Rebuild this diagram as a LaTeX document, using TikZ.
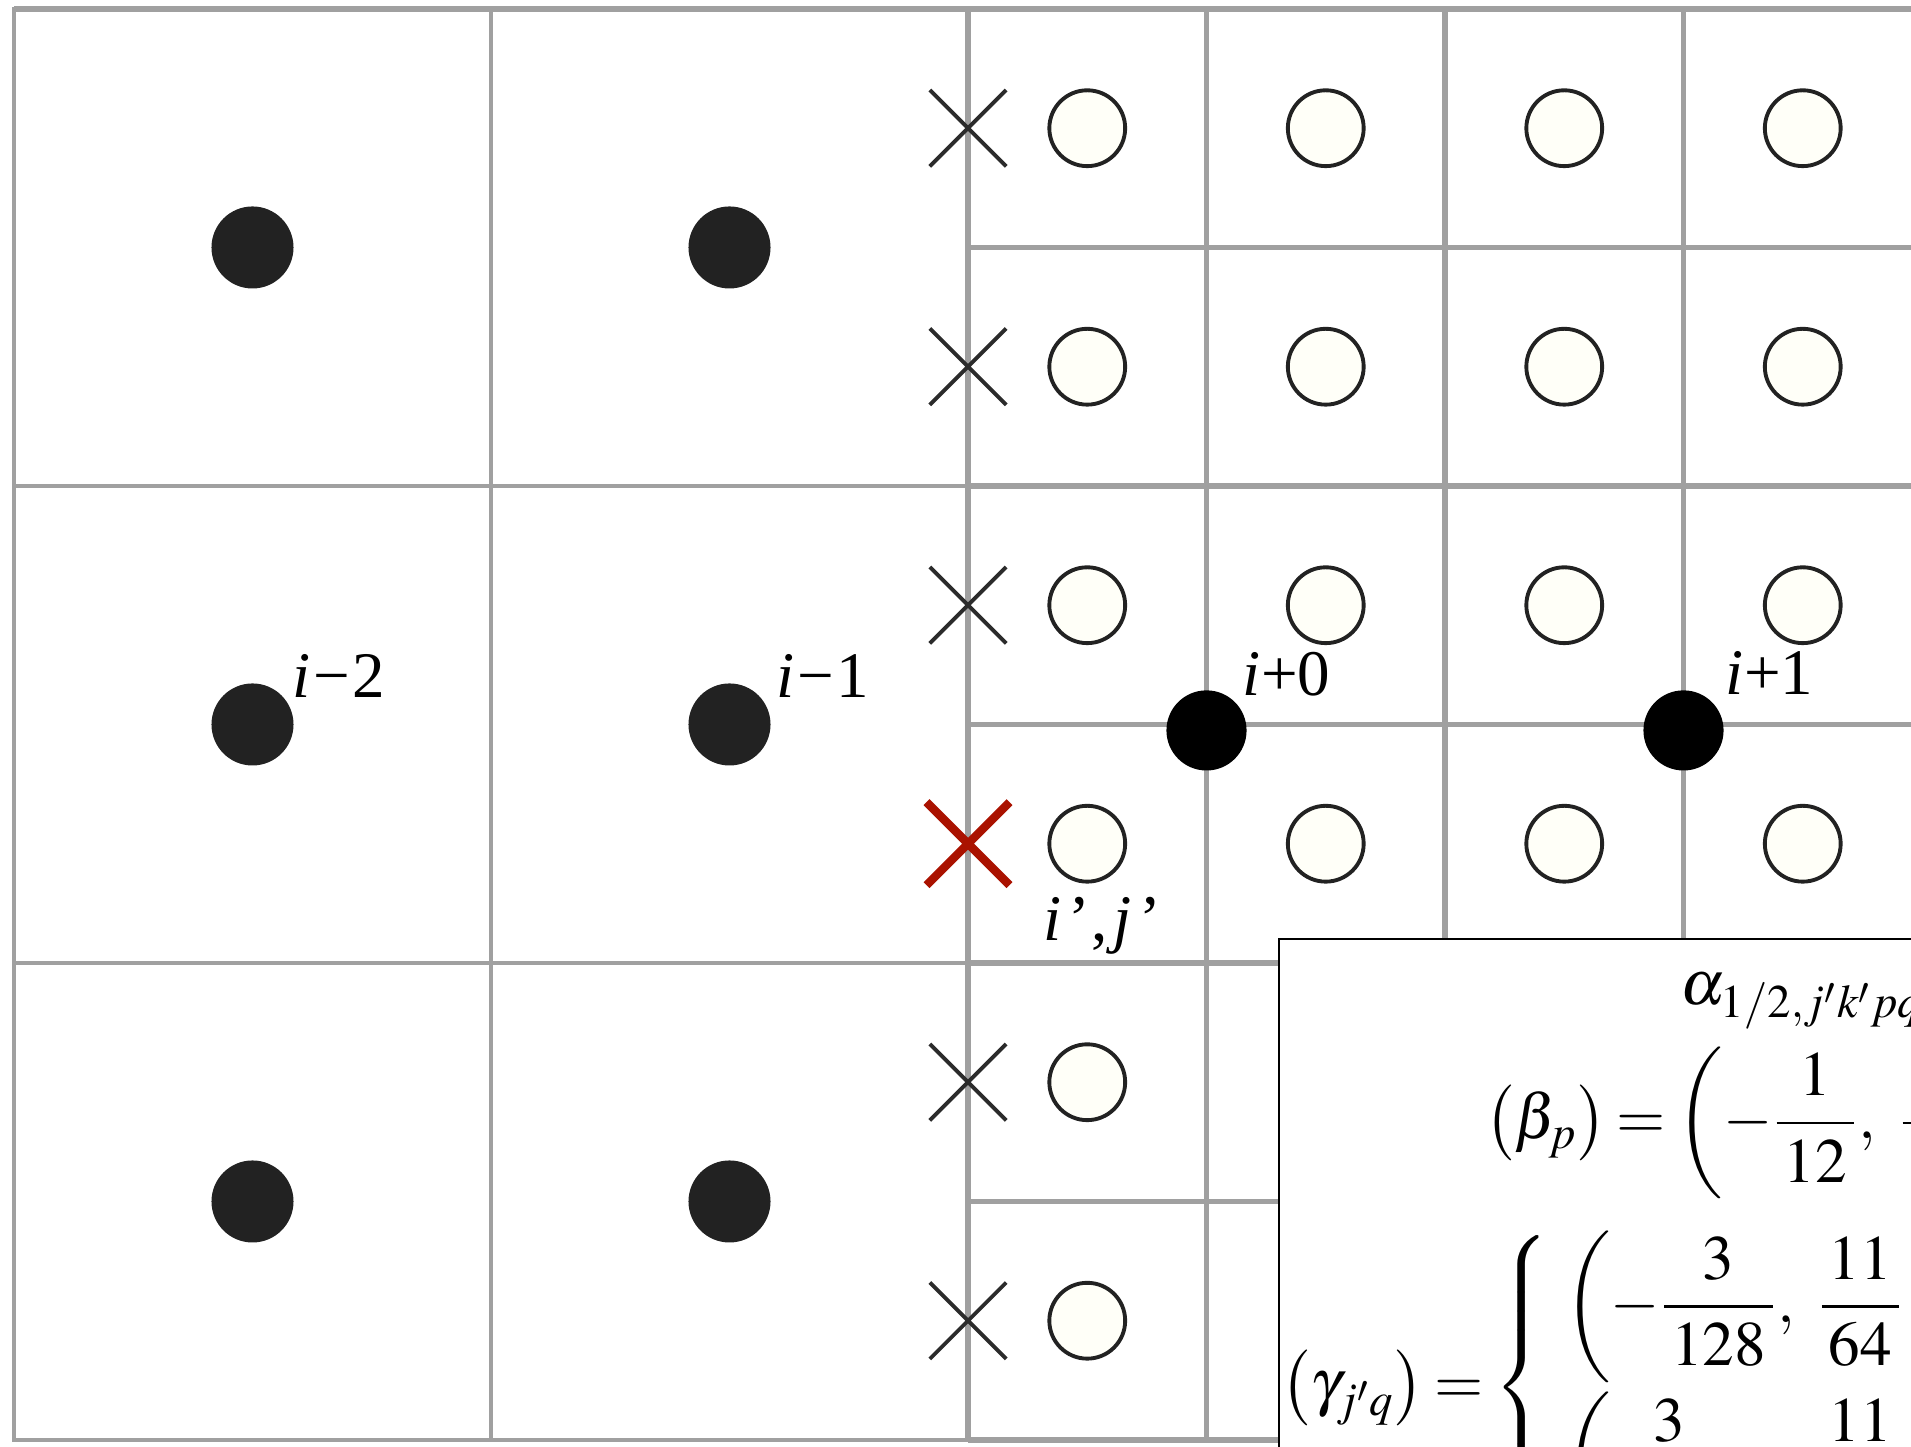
\documentclass[tikz,border=0pt]{standalone}
\usepackage{amsmath}
\usepackage{mathptmx}
\usepackage[no-math]{fontspec}
\setmainfont{Liberation Serif}
\usepackage{tikz}
\definecolor{gridgray}{RGB}{160,160,160}
\definecolor{dotgray}{RGB}{34,34,34}
\definecolor{xgray}{RGB}{43,43,43}
\definecolor{xred}{RGB}{170,18,0}
\definecolor{ivory}{RGB}{255,255,248}
\newcommand{\wfrac}[2]{\dfrac{\mkern2mu#1\mkern2mu}{\mkern2mu#2\mkern2mu}}

\begin{document}
\begin{tikzpicture}[scale=2.385,
  border/.style={gridgray, line width=1.3pt},
  coarse/.style={gridgray, line width=1pt},
  fine/.style={gridgray, line width=1.5pt},
  xmark/.style={xgray, line width=1.1pt},
  redx/.style={xred, line width=2.4pt},
  ocirc/.style={draw=dotgray, fill=ivory, line width=1.1pt},
  lbl/.style={font=\fontsize{18.5}{22}\selectfont, inner sep=0pt, anchor=base west},
  eqn/.style={font=\fontsize{18}{22}\selectfont, inner sep=0pt,
    execute at begin node={\thickmuskip=3mu\relax}}]
  \useasboundingbox (-0.0587,-0.0294) rectangle (7.9539,6.0377);
  \clip (-0.0587,-0.0294) rectangle (7.9539,6.0377);
  % coarse cells
  \draw[border] (0,0) rectangle (4,6);
  \draw[coarse] (2,0) -- (2,6);
  \draw[coarse] (0,2) -- (4,2);
  \draw[coarse] (0,4) -- (4,4);
  % fine cells
  \draw[fine] (4,0) -- (4,6);
  \draw[fine] (5,0) -- (5,6);
  \draw[fine] (6,0) -- (6,6);
  \draw[fine] (7,0) -- (7,6);
  \draw[fine] (4,0) -- (8.2,0);
  \draw[fine] (4,1) -- (8.2,1);
  \draw[fine] (4,2) -- (8.2,2);
  \draw[fine] (4,3) -- (8.2,3);
  \draw[fine] (4,4) -- (8.2,4);
  \draw[fine] (4,5) -- (8.2,5);
  \draw[fine] (0,6) -- (8.2,6);
  % crosses on the interface
  \draw[xmark] (3.84,5.34) -- (4.16,5.66) (3.84,5.66) -- (4.16,5.34);
  \draw[xmark] (3.84,4.34) -- (4.16,4.66) (3.84,4.66) -- (4.16,4.34);
  \draw[xmark] (3.84,3.34) -- (4.16,3.66) (3.84,3.66) -- (4.16,3.34);
  \draw[redx] (3.826,2.326) -- (4.174,2.674) (3.826,2.674) -- (4.174,2.326);
  \draw[xmark] (3.84,1.34) -- (4.16,1.66) (3.84,1.66) -- (4.16,1.34);
  \draw[xmark] (3.84,0.34) -- (4.16,0.66) (3.84,0.66) -- (4.16,0.34);
  % fine cell centres
  \draw[ocirc] (4.5,5.5) circle (0.159);
  \draw[ocirc] (5.5,5.5) circle (0.159);
  \draw[ocirc] (6.5,5.5) circle (0.159);
  \draw[ocirc] (7.5,5.5) circle (0.159);
  \draw[ocirc] (4.5,4.5) circle (0.159);
  \draw[ocirc] (5.5,4.5) circle (0.159);
  \draw[ocirc] (6.5,4.5) circle (0.159);
  \draw[ocirc] (7.5,4.5) circle (0.159);
  \draw[ocirc] (4.5,3.5) circle (0.159);
  \draw[ocirc] (5.5,3.5) circle (0.159);
  \draw[ocirc] (6.5,3.5) circle (0.159);
  \draw[ocirc] (7.5,3.5) circle (0.159);
  \draw[ocirc] (4.5,2.5) circle (0.159);
  \draw[ocirc] (5.5,2.5) circle (0.159);
  \draw[ocirc] (6.5,2.5) circle (0.159);
  \draw[ocirc] (7.5,2.5) circle (0.159);
  \draw[ocirc] (4.5,1.5) circle (0.159);
  \draw[ocirc] (4.5,0.5) circle (0.159);
  % coarse cell centres
  \fill[dotgray] (1,5) circle (0.172);
  \fill[dotgray] (3,5) circle (0.172);
  \fill[dotgray] (1,3) circle (0.172);
  \fill[dotgray] (3,3) circle (0.172);
  \fill[dotgray] (1,1) circle (0.172);
  \fill[dotgray] (3,1) circle (0.172);
  % fine cell corners
  \fill[black] (5,2.975) circle (0.168);
  \fill[black] (7,2.975) circle (0.168);
  % labels
  \node[lbl] (lm2) at (1.165,3.115) {\textit{i}\kern0.04em−\kern0.04em2};
  \node[lbl] (lm1) at (3.195,3.115) {\textit{i}\kern0.04em−\kern0.04em1};
  \node[lbl] (lp0) at (5.150,3.120) {\textit{i}+0};
  \node[lbl] (lp1) at (7.175,3.125) {\textit{i}+1};
  \node[lbl] (lij) at (4.314,2.096)
    {\textit{i}\kern0.1em’\kern0.02em,\kern0.1em\textit{j}\kern0.12em’};
  % coefficient box
  \draw[black, line width=0.6pt, fill=white] (5.304,2.10) rectangle (8.3,-0.3);
  \node[eqn, anchor=base west] (alph) at (6.985,1.825) {$\alpha_{1/2,j'k'pq}$};
  \node[eqn, anchor=west] (beta) at (6.165,1.329)
    {$\bigl(\beta_p\bigr)=\left(-\wfrac{1}{12},\ \wfrac{7}{12}\right)$};
  \node[eqn, anchor=west] (gamm) at (5.31,0.22)
    {$\bigl(\gamma_{j'q}\bigr)=\begin{cases}\mkern4mu\left(-\wfrac{3}{128},\ \wfrac{11}{64}\quad\cdots\right)\\[12pt]
      \mkern4mu\left(\wfrac{3}{128},\ -\wfrac{11}{64}\quad\cdots\right)\end{cases}$};
\end{tikzpicture}
\end{document}
